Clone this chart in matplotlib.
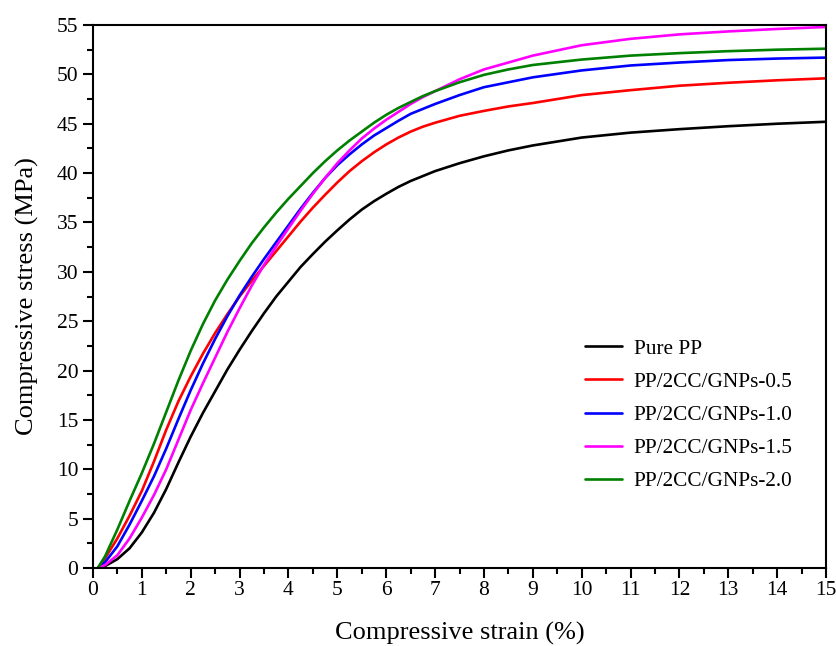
import matplotlib
matplotlib.use("Agg")
import matplotlib.pyplot as plt
from matplotlib.ticker import MultipleLocator

plt.rcParams["font.family"] = ["Liberation Serif", "DejaVu Serif"]

# Compressive stress-strain curves (strain in %, stress in MPa)
strain = [0.1, 0.25, 0.5, 0.75, 1.0, 1.25, 1.5, 1.75, 2.0, 2.25, 2.5, 2.75,
          3.0, 3.25, 3.5, 3.75, 4.0, 4.25, 4.5, 4.75, 5.0, 5.25, 5.5, 5.75,
          6.0, 6.25, 6.5, 6.75, 7.0, 7.5, 8.0, 8.5, 9.0, 10.0, 11.0, 12.0,
          13.0, 14.0, 15.0]

stress_pure_pp = [0.0, 0.2, 0.9, 2.0, 3.6, 5.6, 8.0, 10.7, 13.3, 15.7, 17.9, 20.1,
                  22.1, 24.0, 25.8, 27.5, 29.0, 30.5, 31.8, 33.05, 34.2, 35.3,
                  36.3, 37.15, 37.9, 38.6, 39.2, 39.7, 40.2, 41.0, 41.7, 42.3,
                  42.8, 43.6, 44.1, 44.45, 44.75, 45.0, 45.2]
stress_gnp_05 = [0.0, 1.0, 3.0, 5.3, 7.8, 10.8, 14.0, 16.9, 19.4, 21.7, 23.8, 25.7,
                 27.5, 29.1, 30.6, 32.1, 33.6, 35.1, 36.5, 37.8, 39.05, 40.2,
                 41.2, 42.1, 42.9, 43.6, 44.2, 44.7, 45.1, 45.8, 46.3, 46.75,
                 47.1, 47.9, 48.4, 48.85, 49.15, 49.4, 49.6]
stress_gnp_10 = [0.0, 0.6, 2.2, 4.4, 6.8, 9.3, 12.1, 15.1, 18.0, 20.7, 23.2, 25.5,
                 27.6, 29.5, 31.3, 33.0, 34.7, 36.4, 38.0, 39.5, 40.8, 41.9,
                 42.9, 43.8, 44.55, 45.3, 46.0, 46.5, 47.0, 47.9, 48.7, 49.2,
                 49.7, 50.4, 50.9, 51.2, 51.45, 51.6, 51.7]
stress_gnp_15 = [0.0, 0.3, 1.3, 3.0, 5.1, 7.4, 10.0, 13.0, 16.0, 18.7, 21.3, 23.9,
                 26.3, 28.6, 30.7, 32.6, 34.4, 36.2, 37.9, 39.5, 41.0, 42.3,
                 43.5, 44.5, 45.4, 46.2, 47.0, 47.7, 48.3, 49.5, 50.5, 51.2,
                 51.9, 52.95, 53.6, 54.05, 54.35, 54.6, 54.8]
stress_gnp_20 = [0.0, 1.2, 3.9, 6.8, 9.6, 12.6, 15.8, 19.0, 22.0, 24.7, 27.1, 29.2,
                 31.1, 32.9, 34.5, 36.0, 37.4, 38.7, 40.0, 41.2, 42.3, 43.3,
                 44.2, 45.1, 45.9, 46.6, 47.2, 47.8, 48.3, 49.2, 49.95, 50.5,
                 50.95, 51.5, 51.9, 52.15, 52.35, 52.5, 52.6]

labels = ["Pure PP", "PP/2CC/GNPs-0.5", "PP/2CC/GNPs-1.0",
          "PP/2CC/GNPs-1.5", "PP/2CC/GNPs-2.0"]
colors = ["black", "red", "blue", "magenta", "green"]
series = [stress_pure_pp, stress_gnp_05, stress_gnp_10, stress_gnp_15, stress_gnp_20]

fig = plt.figure(figsize=(8.37, 6.46), dpi=100)
ax = fig.add_axes([0.111, 0.1207, 0.876, 0.8406])

for s, c, lab in zip(series, colors, labels):
    ax.plot(strain, s, color=c, lw=1.9, label=lab,
            solid_joinstyle="round", solid_capstyle="round")

ax.set_xlim(0, 15)
ax.set_ylim(0, 55)
ax.xaxis.set_major_locator(MultipleLocator(1))
ax.xaxis.set_minor_locator(MultipleLocator(0.5))
ax.yaxis.set_major_locator(MultipleLocator(5))
ax.yaxis.set_minor_locator(MultipleLocator(2.5))

ax.tick_params(which="both", direction="out", top=False, right=False,
               width=1.5, labelsize=15.5, colors="black")
ax.tick_params(which="major", length=7)
ax.tick_params(axis="x", which="major", pad=2)
ax.tick_params(which="minor", length=4)
for sp in ax.spines.values():
    sp.set_linewidth(1.5)

ax.set_xlabel("Compressive strain (%)", fontsize=19, labelpad=16)
ax.set_ylabel("Compressive stress (MPa)", fontsize=19, labelpad=13)

ax.legend(loc="upper left", bbox_to_anchor=(0.645, 0.457), frameon=False,
          fontsize=15.3, handlelength=1.75, handletextpad=0.55, labelspacing=0.62)

fig.savefig("out.png", dpi=100)
